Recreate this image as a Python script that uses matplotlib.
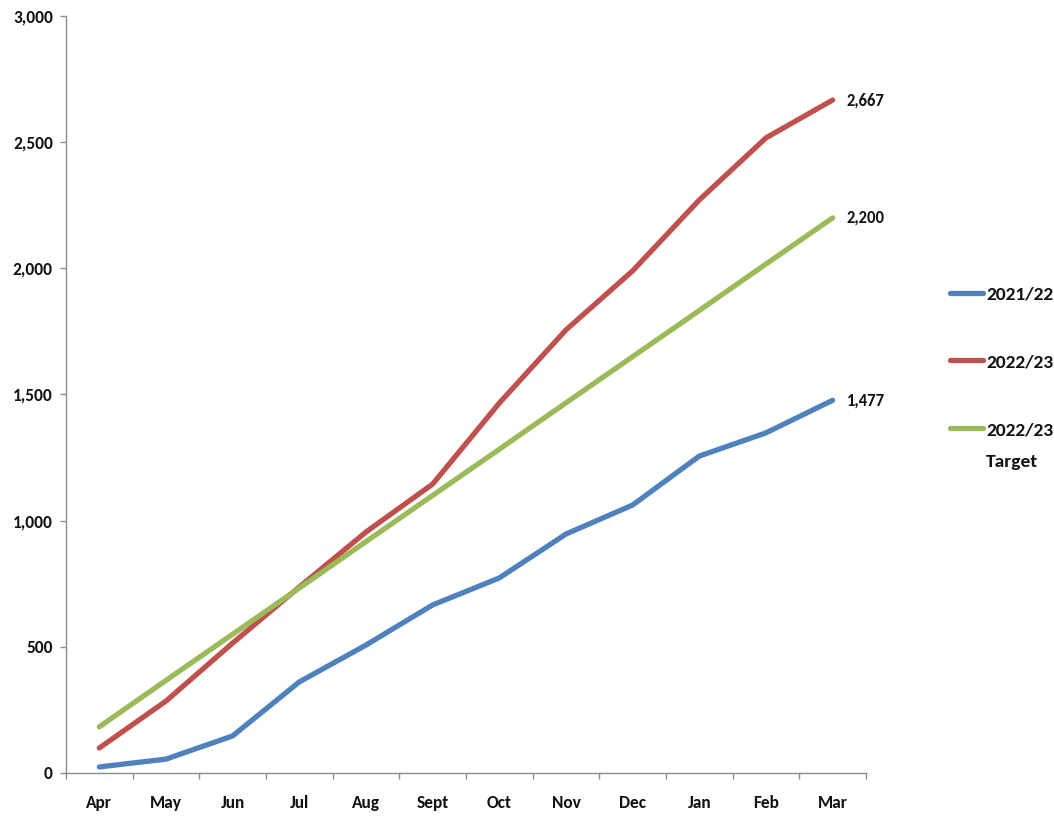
import matplotlib
matplotlib.use("Agg")
import matplotlib.pyplot as plt
from matplotlib.lines import Line2D
from matplotlib.ticker import FuncFormatter, FixedLocator

months = ["Apr", "May", "Jun", "Jul", "Aug", "Sept", "Oct", "Nov", "Dec", "Jan", "Feb", "Mar"]
actual_2122 = [24, 55, 147, 361, 507, 666, 773, 947, 1062, 1256, 1348, 1477]
actual_2223 = [99, 285, 515, 737, 955, 1145, 1466, 1756, 1990, 2271, 2517, 2667]
target_2223 = [183, 367, 550, 733, 917, 1100, 1283, 1467, 1650, 1833, 2017, 2200]

series_names = ["2021/22", "2022/23", "2022/23\nTarget"]
series_values = [actual_2122, actual_2223, target_2223]
series_colors = ["#4F81BD", "#C0504D", "#9BBB59"]

plt.rcParams["font.family"] = ["Carlito", "DejaVu Sans"]
plt.rcParams["font.weight"] = "bold"
TEXT = "#111111"
AXIS = "#8c8c8c"

fig = plt.figure(figsize=(10.54, 8.16), dpi=100)
ax = fig.add_axes([0.0626, 0.0527, 0.759, 0.9277])

x = list(range(len(months)))
for name, vals, color in zip(series_names, series_values, series_colors):
    ax.plot(x, vals, color=color, lw=3.8, solid_capstyle="round",
            solid_joinstyle="round")
    # value at the final month
    ax.annotate(f"{vals[-1]:,}", xy=(x[-1], vals[-1]), xytext=(10, 0),
                textcoords="offset points", va="center", ha="left",
                fontsize=12, fontweight="bold", color=TEXT)

ax.set_xlim(-0.5, len(months) - 0.5)
ax.set_ylim(0, 3000)
ax.set_yticks(range(0, 3001, 500))
ax.yaxis.set_major_formatter(FuncFormatter(lambda v, p: f"{int(v):,}"))

ax.set_xticks(x)
ax.set_xticklabels(months)
ax.xaxis.set_minor_locator(FixedLocator([i - 0.5 for i in range(len(months) + 1)]))
ax.tick_params(axis="x", which="major", length=0, pad=16, labelsize=12.5)
ax.tick_params(axis="x", which="minor", length=4.5, width=1, color=AXIS, direction="out")
ax.tick_params(axis="y", which="major", length=4.5, width=1, color=AXIS, direction="out",
               pad=5, labelsize=12.5)
for t in ax.get_xticklabels() + ax.get_yticklabels():
    t.set_fontweight("bold")
    t.set_color(TEXT)

for s in ("top", "right"):
    ax.spines[s].set_visible(False)
for s in ("left", "bottom"):
    ax.spines[s].set_color(AXIS)
    ax.spines[s].set_linewidth(1.0)

# legend drawn at the right of the plot
W, H = 1054, 816
legend_rows = [293, 360, 428]
for name, color, ry in zip(series_names, series_colors, legend_rows):
    yf = 1 - ry / H
    fig.add_artist(Line2D([950 / W, 983 / W], [yf, yf], color=color, lw=3.8,
                          solid_capstyle="round", transform=fig.transFigure))
    lines = name.split("\n")
    for k, part in enumerate(lines):
        fig.text(986 / W, 1 - (ry + 2 + 32 * k) / H, part, ha="left", va="center",
                 fontsize=14, fontweight="bold", color=TEXT)

fig.savefig("out.png", dpi=100)
